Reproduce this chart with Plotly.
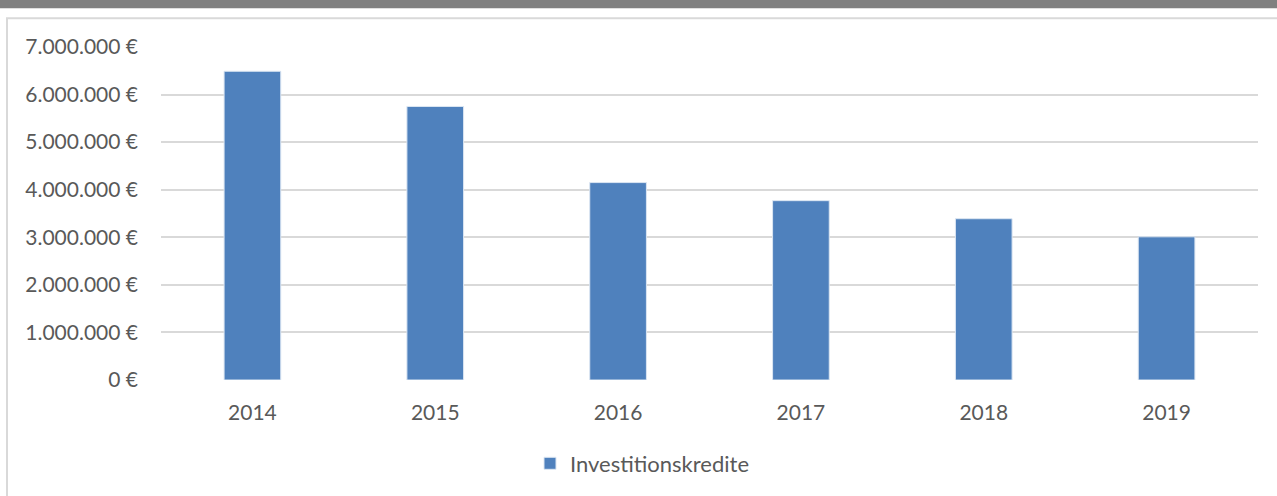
import plotly.graph_objects as go

# Investment credits per year
years = ["2014", "2015", "2016", "2017", "2018", "2019"]
credits = [6490000, 5750000, 4150000, 3770000, 3390000, 3010000]
series_name = "Investitionskredite"

W, H = 1277, 496
L, R, T, B = 161, 19, 47, 114
plot_w = W - L - R
plot_h = H - T - B


def px_x(px):
    return (px - L) / plot_w


def px_y(py):
    return (H - B - py) / plot_h


fig = go.Figure(
    go.Bar(
        x=years,
        y=credits,
        name=series_name,
        marker=dict(color="#4f81bd", line=dict(color="#dce6f2", width=1)),
        width=0.31,
        showlegend=True,
    )
)

font = "Lato, 'Open Sans', sans-serif"
text_color = "#595959"

fig.update_layout(
    width=W,
    height=H,
    margin=dict(l=L, r=R, t=T, b=B),
    paper_bgcolor="white",
    plot_bgcolor="white",
    separators=",.",
    font=dict(family=font, size=21, color=text_color),
    legend=dict(
        orientation="h",
        x=px_x(530),
        xanchor="left",
        y=px_y(466),
        yanchor="middle",
        font=dict(size=22, color=text_color),
    ),
    shapes=[
        dict(type="rect", xref="paper", yref="paper",
             x0=px_x(-5), x1=px_x(W + 5), y0=px_y(-5), y1=px_y(8),
             fillcolor="#808080", line=dict(width=0), layer="below"),
        dict(type="rect", xref="paper", yref="paper",
             x0=px_x(7), x1=px_x(W + 20), y0=px_y(18), y1=px_y(H + 20),
             fillcolor="rgba(0,0,0,0)", line=dict(color="#d9d9d9", width=2),
             layer="below"),
    ],
)

fig.update_yaxes(
    range=[0, 7000000],
    dtick=1000000,
    tickformat=",.0f",
    ticksuffix=" €",
    showgrid=True,
    gridcolor="#d9d9d9",
    gridwidth=1.5,
    zeroline=False,
    showline=False,
    ticklabelstandoff=22,
    tickfont=dict(size=21, color=text_color),
)

fig.update_xaxes(
    showgrid=False,
    showline=False,
    zeroline=False,
    ticks="",
    ticklabelstandoff=18,
    tickfont=dict(size=21, color=text_color),
)

fig.write_html("out.html")
